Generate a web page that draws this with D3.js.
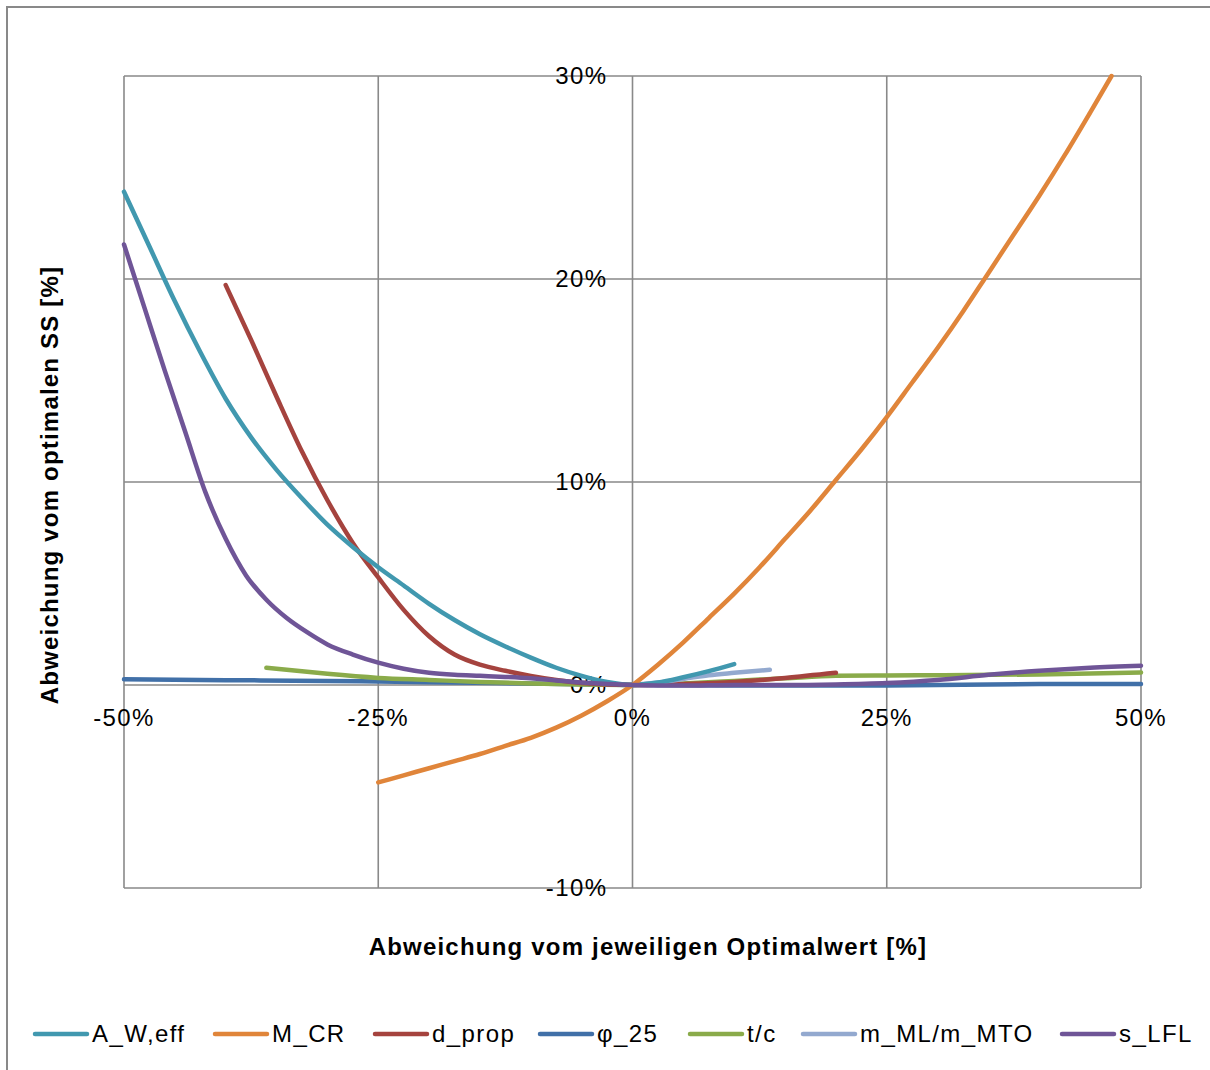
<!DOCTYPE html>
<html><head><meta charset="utf-8">
<script src="https://cdn.jsdelivr.net/npm/d3@7"></script>
<style>body{margin:0;background:#fff}svg{display:block;font-family:"Liberation Sans",Arial,sans-serif}</style>
</head><body><svg id="c" width="1210" height="1070"></svg>
<script>
const seriesNames = ["A_W,eff","M_CR","d_prop","φ_25","t/c","m_ML/m_MTO","s_LFL"];
const seriesColors = ["#4198AF","#E0853A","#A5433E","#4170A8","#8AAB4A","#93A9CF","#6F5597"];
const xTicks = [-50,-25,0,25,50];
const yTicks = [-10,0,10,20,30];
const xTickLabels = ["-50%","-25%","0%","25%","50%"];
const yTickLabels = ["-10%","0%","10%","20%","30%"];

const xA_W = [-50,-47.5,-45,-42.5,-40,-37.5,-35,-32.5,-30,-27.5,-25,-22.5,-20,-17.5,-15,-12.5,-10,-7.5,-5,-2.5,0,2.5,5,7.5,10];
const yA_W = [24.3,21.6,18.9,16.4,14.1,12.2,10.6,9.2,7.9,6.8,5.8,4.9,4.0,3.2,2.5,1.9,1.35,0.85,0.45,0.15,0,0.12,0.38,0.68,1.03];

const xM_CR = [-25,-22.5,-20,-17.5,-15,-12.5,-10,-7.5,-5,-2.5,0,2.5,5,7.5,10,12.5,15,17.5,20,22.5,25,27.5,30,32.5,35,37.5,40,42.5,45,47.1];
const yM_CR = [-4.8,-4.45,-4.1,-3.75,-3.4,-3.0,-2.6,-2.1,-1.5,-0.8,0,1.0,2.1,3.3,4.5,5.8,7.2,8.6,10.1,11.6,13.2,14.9,16.6,18.4,20.3,22.2,24.1,26.1,28.2,30.0];

const xD_prop = [-40,-37.5,-35,-32.5,-30,-27.5,-25,-22.5,-20,-17.5,-15,-12.5,-10,-7.5,-5,0,5,10,15,20];
const yD_prop = [19.7,17.0,14.2,11.5,9.1,7.0,5.3,3.7,2.4,1.5,1.0,0.7,0.45,0.25,0.1,0,0.05,0.15,0.35,0.6];

const xPhi = [-50,-40,-30,-25,-20,-10,0,10,25,40,50];
const yPhi = [0.28,0.24,0.2,0.17,0.14,0.07,0,-0.02,-0.02,0.05,0.05];

const xTc = [-36,-33,-30,-25,-20,-15,-10,-5,0,5,10,15,20,25,30,40,50];
const yTc = [0.85,0.7,0.55,0.35,0.25,0.15,0.08,0.03,0,0.08,0.2,0.33,0.45,0.47,0.48,0.52,0.62];

const xMml = [0,2.5,5,7.5,10,13.5];
const yMml = [0,0.12,0.3,0.48,0.6,0.75];

const xS_LFL = [-50,-48,-46,-44,-42,-40,-38,-36,-34,-32,-30,-27.5,-25,-22.5,-20,-17.5,-15,-12.5,-10,-7.5,-5,0,5,10,15,20,25,30,35,40,45,50];
const yS_LFL = [21.7,18.6,15.5,12.5,9.5,7.2,5.4,4.2,3.3,2.6,2.0,1.5,1.1,0.8,0.6,0.5,0.45,0.4,0.33,0.22,0.12,0,-0.03,0,0,0.03,0.1,0.25,0.5,0.7,0.85,0.95];

const seriesX = [xA_W,xM_CR,xD_prop,xPhi,xTc,xMml,xS_LFL];
const seriesY = [yA_W,yM_CR,yD_prop,yPhi,yTc,yMml,yS_LFL];
const drawOrder = [3,4,2,5,0,1,6];

const svg = d3.select("#c");
const grey = "#898989";
const L=124,R=1141,T=76,B=888;
const x = d3.scaleLinear().domain([-50,50]).range([L,R]);
const y = d3.scaleLinear().domain([-10,30]).range([B,T]);

svg.append("rect").attr("x",7).attr("y",7).attr("width",1215).attr("height",1080)
  .attr("fill","none").attr("stroke",grey).attr("stroke-width",2);

const g = svg.append("g");
g.selectAll("line.h").data(yTicks).join("line")
  .attr("x1",L).attr("x2",R).attr("y1",d=>y(d)).attr("y2",d=>y(d))
  .attr("stroke",grey).attr("stroke-width",1.6);
g.selectAll("line.v").data(xTicks).join("line")
  .attr("y1",T).attr("y2",B).attr("x1",d=>x(d)).attr("x2",d=>x(d))
  .attr("stroke",grey).attr("stroke-width",1.6);

const fs = 24, ls = "1.4px";
svg.append("g").selectAll("text").data(yTicks).join("text")
  .attr("x",x(0)-25).attr("y",d=>y(d)).attr("dy","0.35em")
  .attr("text-anchor","end").attr("font-size",fs).attr("letter-spacing",ls).attr("fill","#000")
  .text((d,i)=>yTickLabels[i]);
svg.append("g").selectAll("text").data(xTicks).join("text")
  .attr("x",d=>x(d)).attr("y",y(0)+33).attr("dy","0.35em")
  .attr("text-anchor","middle").attr("font-size",fs).attr("letter-spacing",ls).attr("fill","#000")
  .text((d,i)=>xTickLabels[i]);

const line = d3.line().curve(d3.curveMonotoneX);
const sg = svg.append("g");
drawOrder.forEach(i=>{
  const pts = seriesX[i].map((xv,k)=>[x(xv),y(seriesY[i][k])]);
  sg.append("path").attr("d",line(pts)).attr("fill","none")
    .attr("stroke",seriesColors[i]).attr("stroke-width",4.5)
    .attr("stroke-linecap","round").attr("stroke-linejoin","round");
});

svg.append("text").attr("x",648).attr("y",947).attr("dy","0.35em")
  .attr("text-anchor","middle").attr("font-size",fs).attr("font-weight","bold").attr("letter-spacing","1.2px")
  .text("Abweichung vom jeweiligen Optimalwert [%]");
svg.append("text").attr("transform","translate(50,485) rotate(-90)").attr("dy","0.35em")
  .attr("text-anchor","middle").attr("font-size",fs).attr("font-weight","bold").attr("letter-spacing","1.2px")
  .text("Abweichung vom optimalen SS [%]");

const legX = [35,215,375,540,690,803,1062];
const lg = svg.append("g");
seriesNames.forEach((n,i)=>{
  lg.append("line").attr("x1",legX[i]).attr("x2",legX[i]+52).attr("y1",1034).attr("y2",1034)
    .attr("stroke",seriesColors[i]).attr("stroke-width",4.5).attr("stroke-linecap","round");
  lg.append("text").attr("x",legX[i]+57).attr("y",1034).attr("dy","0.35em")
    .attr("font-size",fs).attr("letter-spacing",ls).text(n);
});
</script></body></html>
